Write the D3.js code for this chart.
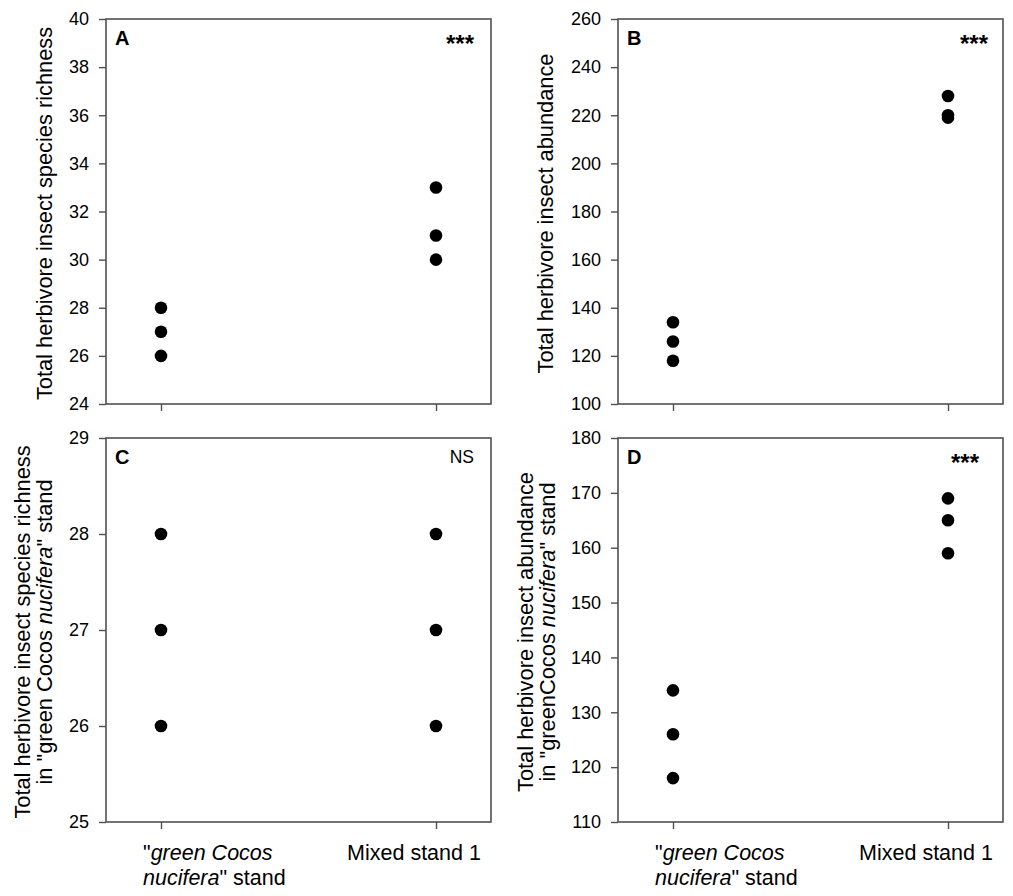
<!DOCTYPE html>
<html>
<head>
<meta charset="utf-8">
<script src="https://cdn.jsdelivr.net/npm/d3@7"></script>
<style>
  html, body { margin: 0; padding: 0; background: #fff; }
  svg text { font-family: Arial, "Liberation Sans", sans-serif; fill: #000; }
</style>
</head>
<body>
<svg id="chart" width="1013" height="896"></svg>
<script>
// ---- data ----
const categories = ["green", "mixed"];
const richnessGreen = [28, 27, 26];
const richnessMixed = [33, 31, 30];
const abundanceGreen = [134, 126, 118];
const abundanceMixed = [228, 220, 219];
const standRichnessGreen = [28, 27, 26];
const standRichnessMixed = [28, 27, 26];
const standAbundanceGreen = [134, 126, 118];
const standAbundanceMixed = [169, 165, 159];
const ticksA = [24, 26, 28, 30, 32, 34, 36, 38, 40];
const ticksB = [100, 120, 140, 160, 180, 200, 220, 240, 260];
const ticksC = [25, 26, 27, 28, 29];
const ticksD = [110, 120, 130, 140, 150, 160, 170, 180];
const panelLetters = ["A", "B", "C", "D"];
const significance = ["***", "***", "NS", "***"];

const svg = d3.select("#chart");
const axisColor = "#505050";

const panels = [
  { letter: panelLetters[0], sig: significance[0], green: richnessGreen, mixed: richnessMixed, ticks: ticksA,
    left: 106, top: 19, w: 385, h: 385, xLabels: false,
    label: [[{t: "Total herbivore insect species richness"}]], labelX: [52], sigX: 474, sigBold: true },
  { letter: panelLetters[1], sig: significance[1], green: abundanceGreen, mixed: abundanceMixed, ticks: ticksB,
    left: 618, top: 19, w: 385, h: 385, xLabels: false,
    label: [[{t: "Total herbivore insect abundance"}]], labelX: [553], sigX: 988, sigBold: true },
  { letter: panelLetters[2], sig: significance[2], green: standRichnessGreen, mixed: standRichnessMixed, ticks: ticksC,
    left: 106, top: 438, w: 385, h: 384, xLabels: true,
    label: [[{t: "Total herbivore insect species richness"}],
            [{t: "in \"green Cocos "}, {t: "nucifera", i: true}, {t: "\" stand"}]],
    labelX: [30, 52], sigX: 474, sigBold: false },
  { letter: panelLetters[3], sig: significance[3], green: standAbundanceGreen, mixed: standAbundanceMixed, ticks: ticksD,
    left: 618, top: 438, w: 385, h: 384, xLabels: true,
    label: [[{t: "Total herbivore insect abundance"}],
            [{t: "in \"greenCocos "}, {t: "nucifera", i: true}, {t: "\" stand"}]],
    labelX: [533, 555], sigX: 979, sigBold: true }
];

panels.forEach(p => {
  const g = svg.append("g").attr("transform", `translate(${p.left},${p.top})`);
  const x = d3.scaleLinear().domain([0.8, 2.2]).range([0, p.w]);
  const ext = d3.extent(p.ticks);
  const y = d3.scaleLinear().domain(ext).range([p.h, 0]);

  // frame
  g.append("rect").attr("x", 0).attr("y", 0).attr("width", p.w).attr("height", p.h)
    .attr("fill", "none").attr("stroke", axisColor).attr("stroke-width", 1.6);

  // y axis
  const ya = g.append("g").call(d3.axisLeft(y).tickValues(p.ticks).tickSize(7).tickPadding(10).tickFormat(d3.format("d")));
  ya.select(".domain").remove();
  ya.selectAll(".tick line").attr("stroke", axisColor).attr("stroke-width", 1.4);
  ya.selectAll(".tick text").style("font-size", "18px").style("font-family", "Arial, 'Liberation Sans', sans-serif").attr("fill", "#000");

  // x axis ticks
  const xa = g.append("g").attr("transform", `translate(0,${p.h})`)
    .call(d3.axisBottom(x).tickValues([1, 2]).tickSize(7).tickFormat(""));
  xa.select(".domain").remove();
  xa.selectAll(".tick line").attr("stroke", axisColor).attr("stroke-width", 1.4);

  // x labels
  if (p.xLabels) {
    const t1 = g.append("text").attr("x", x(1) - 18).attr("y", p.h + 38).style("font-size", "21.5px");
    t1.append("tspan").text("\"");
    t1.append("tspan").style("font-style", "italic").text("green Cocos");
    const t2 = g.append("text").attr("x", x(1) - 18).attr("y", p.h + 63).style("font-size", "21.5px");
    t2.append("tspan").style("font-style", "italic").text("nucifera");
    t2.append("tspan").text("\" stand");
    g.append("text").attr("x", x(2) - 22).attr("y", p.h + 38).attr("text-anchor", "middle")
      .style("font-size", "21.5px").text("Mixed stand 1");
  }

  // y label
  p.label.forEach((line, li) => {
    const t = svg.append("text")
      .attr("transform", `translate(${p.labelX[li]},${p.top + p.h / 2 + 2}) rotate(-90)`)
      .attr("text-anchor", "middle").style("font-size", "21.8px");
    line.forEach(seg => {
      const s = t.append("tspan").text(seg.t);
      if (seg.i) s.style("font-style", "italic");
    });
  });

  // panel letter
  g.append("text").attr("x", 9).attr("y", 26).style("font-size", "20px").style("font-weight", "bold").text(p.letter);

  // significance
  g.append("text").attr("x", p.sigX - p.left).attr("y", p.sig === "NS" ? 25 : 33)
    .attr("text-anchor", "end")
    .style("font-size", p.sig === "NS" ? "17.5px" : "24px")
    .style("font-weight", p.sigBold ? "bold" : "normal")
    .text(p.sig);

  // points
  const pts = [];
  p.green.forEach(v => pts.push({ c: 1, v }));
  p.mixed.forEach(v => pts.push({ c: 2, v }));
  g.selectAll("circle.pt").data(pts).enter().append("circle")
    .attr("class", "pt")
    .attr("cx", d => x(d.c)).attr("cy", d => y(d.v)).attr("r", 6.3).attr("fill", "#000");
});
</script>
</body>
</html>
